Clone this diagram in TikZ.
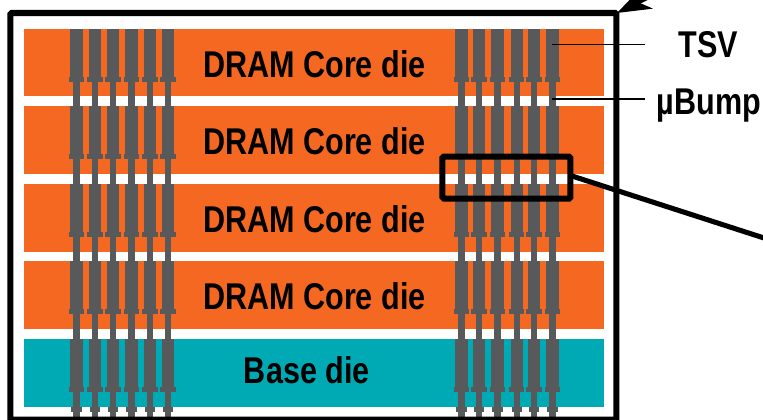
\documentclass[tikz,border=0pt]{standalone}
\usepackage{fontspec}
\setmainfont[FakeStretch=0.82]{Liberation Sans}
\usetikzlibrary{calc,arrows.meta}
\definecolor{dieorange}{RGB}{245,104,33}
\definecolor{dieteal}{RGB}{0,170,181}
\definecolor{tsvgray}{RGB}{88,89,91}
\tikzset{
    die/.style={rectangle,minimum width = 14.5cm,minimum height = 1.69cm,inner sep = 0pt},
    dielabel/.style={font=\bfseries\fontsize{26.5}{26.5}\selectfont,inner sep = 0pt,anchor = base},
    leader/.style={draw=black,line width = 1.1pt}
}
% one via through a die, x is the column, y the top of the die
\newcommand{\tsvstack}[2]{
    \fill[tsvgray] (#1 - 0.155, #2) rectangle (#1 + 0.155, #2 - 1.205);
    \fill[tsvgray] (#1 - 0.19, #2 - 1.205) rectangle (#1 + 0.19, #2 - 1.33);
    \fill[tsvgray] (#1 - 0.08, #2 - 1.33) rectangle (#1 + 0.08, #2 - 1.96);
}
\begin{document}
\begin{tikzpicture}
    \useasboundingbox (0, 0) rectangle (19.075, 10.475);

    \node[die,fill = dieorange] (die4) at (7.85, 8.91) {};
    \node[die,fill = dieorange] (die3) at (7.85, 6.975) {};
    \node[die,fill = dieorange] (die2) at (7.85, 5.025) {};
    \node[die,fill = dieorange] (die1) at (7.85, 3.1) {};
    \node[die,fill = dieteal] (basedie) at (7.85, 1.15) {};

    \foreach \col in {1.91, 2.375, 2.825, 3.29, 3.75, 4.2, 11.54, 11.975, 12.44, 12.92, 13.35, 13.81} {
        \foreach \rowtop in {9.75, 7.82, 5.87, 3.945, 1.995} {
            \tsvstack{\col}{\rowtop}
        }
        \fill[tsvgray] (\col - 0.13, 0.3) rectangle (\col + 0.13, 0.18);
        \fill[tsvgray] (\col - 0.08, 0.3) rectangle (\col + 0.08, 0);
    }

    \node[dielabel] (label4) at (7.86, 8.53) {DRAM Core die};
    \node[dielabel] (label3) at (7.86, 6.6) {DRAM Core die};
    \node[dielabel] (label2) at (7.86, 4.65) {DRAM Core die};
    \node[dielabel] (label1) at (7.86, 2.73) {DRAM Core die};
    \node[dielabel] (labelbase) at (7.67, 0.9) {Base die};

    \draw[line width = 4.4pt,rounded corners = 1pt] (0.26, -0.02) rectangle (15.41, 10.15);
    \draw[line width = 4.2pt,rounded corners = 1pt] (11.06, 5.51) rectangle (14.26, 6.56);

    \node[dielabel] (tsvlabel) at (17.71, 9.025) {TSV};
    \node[dielabel] (bumplabel) at (17.72, 7.6) {µBump};
    \coordinate (tsvend) at (13.8, 9.36);
    \coordinate (bumpend) at (13.8, 8);
    \coordinate (tsvstart) at (16.125, 9.36);
    \coordinate (bumpstart) at (16.125, 8);
    \draw[leader] (tsvstart) -- (tsvend);
    \draw[leader] (bumpstart) -- (bumpend);

    \coordinate (zoomstart) at (14.3, 6.075);
    \coordinate (zoomend) at (19.1, 4.525);
    \draw[line width = 3.6pt] (zoomstart) -- (zoomend);
    \coordinate (arrowend) at (15.425, 10.15);
    \coordinate (arrowstart) at (16.625, 10.75);
    \draw[-{Stealth[length=24pt,width=17pt,inset=7pt]},line width = 3pt] (arrowstart) -- (arrowend);
\end{tikzpicture}
\end{document}
